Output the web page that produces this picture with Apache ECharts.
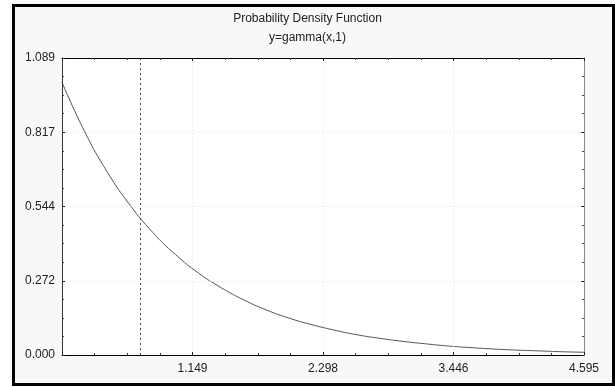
<!DOCTYPE html>
<html><head><meta charset="utf-8">
<script src="https://cdn.jsdelivr.net/npm/echarts@6/dist/echarts.min.js"></script>
<style>html,body{margin:0;padding:0;background:#fff}#c{width:615px;height:387px}</style>
</head><body><div id="c"></div>
<script>
var titleText = 'Probability Density Function';
var subtitleText = 'y=gamma(x,1)';
var xValues = [0,0.2,0.4,0.6,0.8,1.0,1.2,1.4,1.6,1.8,2.0,2.2,2.4,2.6,2.8,3.0,3.2,3.4,3.6,3.8,4.0,4.2,4.4,4.595];
var yValues = [1.000,0.819,0.670,0.549,0.449,0.368,0.301,0.247,0.202,0.165,0.135,0.111,0.091,0.074,0.061,0.050,0.041,0.033,0.027,0.022,0.018,0.015,0.012,0.010];
var markerX = 0.693;
var xTickLabels = ['', '1.149', '2.298', '3.446', '4.595'];
var yTickLabels = ['0.000', '0.272', '0.544', '0.817', '1.089'];
var xMax = 4.595, yMax = 1.089;

var xInt = xMax / 4, yInt = yMax / 4;
var pts = xValues.map(function(x, i){ return [x, yValues[i]]; });
var chart = echarts.init(document.getElementById('c'));
var font = 'Liberation Sans, Arial, sans-serif';
function baseAxis(extra, lineColor){
  return Object.assign({
    axisLine:{show:true, onZero:false, lineStyle:{color:lineColor || '#000', width:1}},
    axisTick:{show:true, inside:true, length:3, lineStyle:{color:'#222'}},
    minorTick:{show:true, splitNumber:4, length:2, lineStyle:{color:'#444'}},
    splitLine:{show:false},
    axisLabel:{show:false}
  }, extra);
}
chart.setOption({
  animation:false,
  backgroundColor:'#fff',
  graphic:[
    {type:'rect', z:-10, shape:{x:13.5, y:5.5, width:600, height:379}, style:{fill:'#f8f8f8', stroke:'#000', lineWidth:3}},
    {type:'text', left:'center', top:13, style:{text:titleText, font:'12px ' + font, fill:'#222'}},
    {type:'text', left:'center', top:32, style:{text:subtitleText, font:'12px ' + font, fill:'#222'}}
  ],
  grid:{left:62, top:58, right:31, bottom:32, show:true, backgroundColor:'#fff', borderWidth:0},
  xAxis:[
    baseAxis({type:'value', min:0, max:xMax, interval:xInt, position:'bottom', z:5,
      splitLine:{show:true, lineStyle:{color:'#ddd', type:[1,3]}},
      axisLabel:{show:true, color:'#222', fontFamily:font, fontSize:12, margin:8,
        formatter:function(v){ return xTickLabels[Math.round(v / xInt)] || ''; }}}),
    baseAxis({type:'value', min:0, max:xMax, interval:xInt, position:'top', z:5})
  ],
  yAxis:[
    baseAxis({type:'value', min:0, max:yMax, interval:yInt, position:'left', z:5,
      splitLine:{show:true, lineStyle:{color:'#ddd', type:[1,3]}},
      axisLabel:{show:true, color:'#222', fontFamily:font, fontSize:12, margin:7,
        formatter:function(v){ return yTickLabels[Math.round(v / yInt)] || ''; }}}, '#333'),
    baseAxis({type:'value', min:0, max:yMax, interval:yInt, position:'right', z:5}, '#888')
  ],
  series:[{
    type:'line', data:pts, smooth:true, showSymbol:false,
    lineStyle:{color:'#555', width:1},
    markLine:{silent:true, symbol:'none', label:{show:false},
      lineStyle:{color:'#444', type:[2,3], width:1},
      data:[{xAxis:markerX}]}
  }]
});
</script></body></html>
